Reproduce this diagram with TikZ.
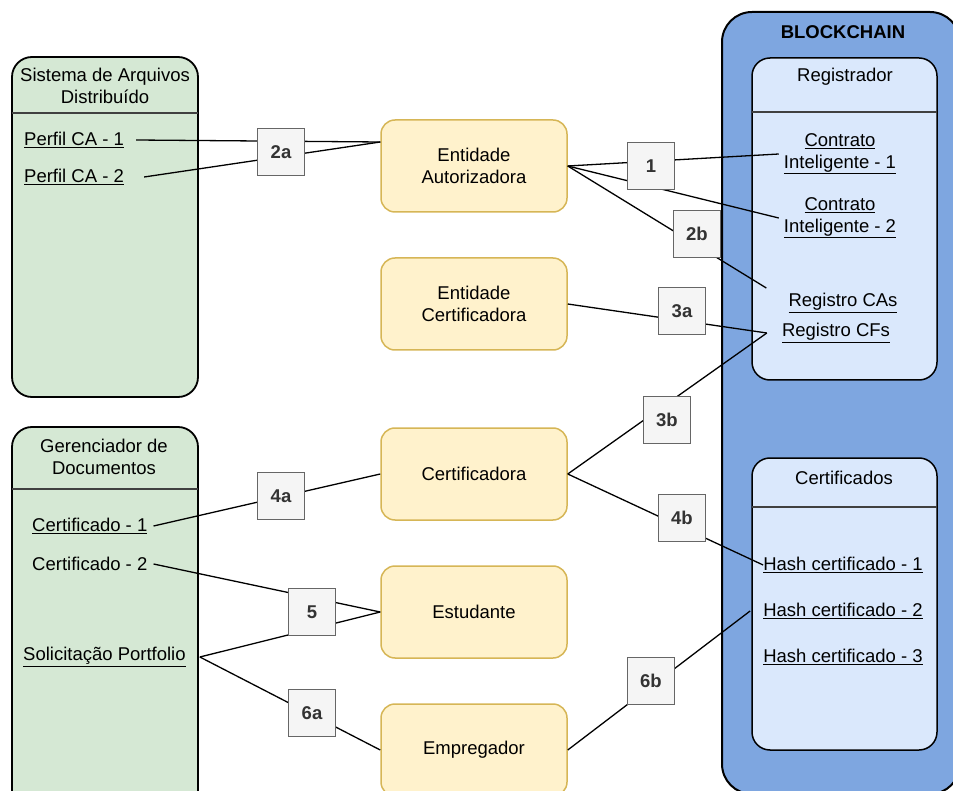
\documentclass[tikz,border=0pt]{standalone}
\usepackage{fontspec}
\setmainfont{Liberation Sans}
\usetikzlibrary{calc}

\definecolor{laneGreen}{HTML}{D5E8D4}
\definecolor{chainBlue}{HTML}{7EA6E0}
\definecolor{laneBlue}{HTML}{DAE8FC}
\definecolor{actorFill}{HTML}{FFF2CC}
\definecolor{actorLine}{HTML}{D6B656}
\definecolor{tagFill}{HTML}{F5F5F5}
\definecolor{tagLine}{HTML}{666666}
\definecolor{tagText}{HTML}{333333}

\newcommand\diagfont{\fontsize{18.5}{21.5}\selectfont}

\tikzset{
  greenlane/.style={draw=black, fill=laneGreen, line width=1.8pt, rounded corners=20pt},
  bluelane/.style={draw=black, fill=laneBlue, line width=1.5pt, rounded corners=18pt},
  headline/.style={draw=black!75, line width=1.5pt},
  actor/.style={draw=actorLine, fill=actorFill, line width=1.5pt, rounded corners=14pt,
    minimum width=186pt, minimum height=92pt, align=center, font=\diagfont},
  tag/.style={draw=tagLine, fill=tagFill, line width=1.5pt, minimum size=47pt,
    inner sep=0pt, font=\diagfont\bfseries, text=tagText},
  item/.style={inner sep=0pt, font=\diagfont, align=center},
  link/.style={draw=black, line width=1.3pt},
}

\begin{document}
\begin{tikzpicture}[x=1pt,y=-1pt]
\useasboundingbox (0,0) rectangle (953,791);
\clip (0,0) rectangle (953,791);

% ---- blockchain container ----
\draw[line width=2pt, fill=chainBlue, rounded corners=30pt] (722,12) rectangle (960,794);
\node[item, font=\diagfont\bfseries] (chain) at (843,32) {BLOCKCHAIN};

% Registrador lane
\draw[bluelane] (752,58) rectangle (937,380);
\draw[headline] (752,112) -- (937,112);
\node[item] (reg) at (845,77) {Registrador};
\node[item] (ci1) at (840,154) {\underline{Contrato}\\\underline{Inteligente - 1}};
\node[item] (ci2) at (840,218) {\underline{Contrato}\\\underline{Inteligente - 2}};
\node[item] (rca) at (843,303) {\underline{Registro CAs}};
\node[item] (rcf) at (836,333) {\underline{Registro CFs}};

% Certificados lane
\draw[bluelane] (752,458) rectangle (937,750);
\draw[headline] (752,507) -- (937,507);
\node[item] (certs) at (844,478) {Certificados};
\node[item] (h1) at (843,565) {\underline{Hash certificado - 1}};
\node[item] (h2) at (843,611) {\underline{Hash certificado - 2}};
\node[item] (h3) at (843,657) {\underline{Hash certificado - 3}};

% ---- distributed file system ----
\draw[greenlane] (12,57) rectangle (198,397);
\draw[headline] (12,113) -- (198,113);
\node[item] (sfs) at (105,86) {Sistema de Arquivos\\Distribuído};
\node[item, anchor=west] (p1) at (24,140) {\underline{Perfil CA - 1}};
\node[item, anchor=west] (p2) at (24,177) {\underline{Perfil CA - 2}};

% ---- document manager ----
\draw[greenlane] (12,427) rectangle (198,840);
\draw[headline] (12,489) -- (198,489);
\node[item] (gdoc) at (104,457) {Gerenciador de\\Documentos};
\node[item, anchor=west] (c1) at (32,526) {\underline{Certificado - 1}};
\node[item, anchor=west] (c2) at (32,564) {Certificado - 2};
\node[item, anchor=west] (sp) at (23,657) {\underline{Solicitação Portfolio}};

% ---- actors ----
\node[actor] (ea)   at (474,166) {Entidade\\Autorizadora};
\node[actor] (ec)   at (474,304) {Entidade\\Certificadora};
\node[actor] (cert) at (474,474) {Certificadora};
\node[actor] (est)  at (474,612) {Estudante};
\node[actor] (emp)  at (474,750) {Empregador};

% ---- connectors ----
\draw[link] ([xshift=12pt]p1.east) -- ([yshift=24pt]ea.west);
\draw[link] ([xshift=20pt]p2.east) -- ([yshift=24pt]ea.west);
\draw[link] (ea.east) -- ([xshift=-5pt]ci1.west);
\draw[link] (ea.east) -- ([xshift=-5pt]ci2.west);
\draw[link] (ea.east) -- ([shift={(-22pt,15pt)}]rca.west);
\coordinate (cfin) at ([xshift=-15pt]rcf.west);
\draw[link] (ec.east) -- (cfin);
\draw[link] (cert.east) -- (cfin);
\draw[link] (cert.east) -- (h1.west);
\draw[link] ([xshift=6pt]c1.east) -- (cert.west);
\draw[link] ([xshift=6pt]c2.east) -- (est.west);
\draw[link] ([xshift=14pt]sp.east) -- (est.west);
\draw[link] ([xshift=14pt]sp.east) -- (emp.west);
\draw[link] (emp.east) -- ([xshift=-13pt]h2.west);

% ---- step tags ----
\node[tag] (t2a) at (281,152) {2a};
\node[tag] (t1)  at (651,166) {1};
\node[tag] (t2b) at (697,234) {2b};
\node[tag] (t3a) at (682,311) {3a};
\node[tag] (t3b) at (667,420) {3b};
\node[tag] (t4a) at (281,496) {4a};
\node[tag] (t4b) at (682,518) {4b};
\node[tag] (t5)  at (312,612) {5};
\node[tag] (t6a) at (312,713) {6a};
\node[tag] (t6b) at (651,681) {6b};
\end{tikzpicture}
\end{document}
